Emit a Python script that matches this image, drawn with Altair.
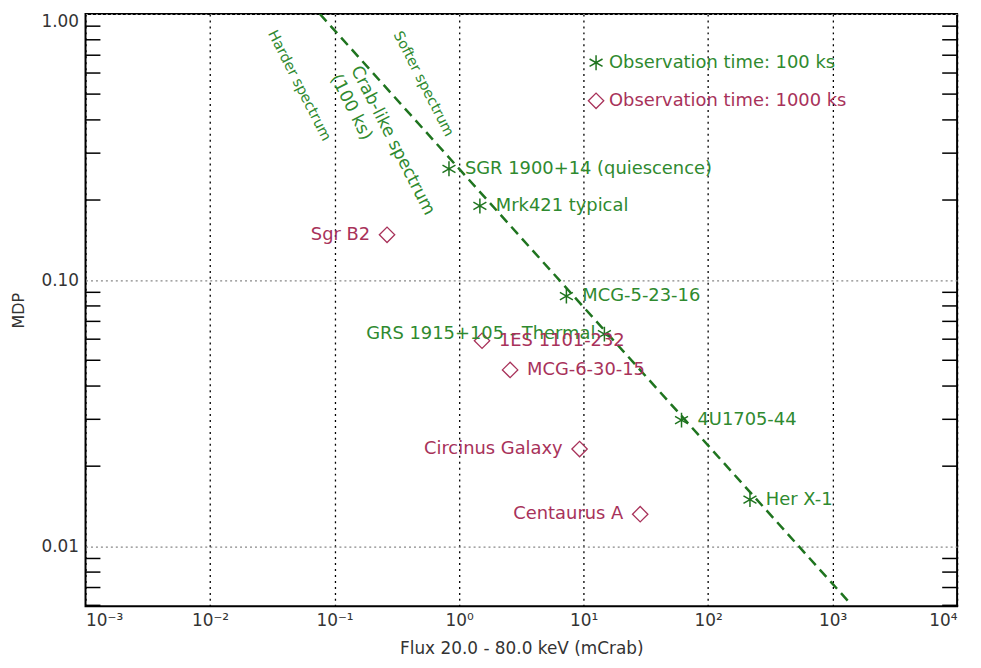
import altair as alt
import pandas as pd

# ---------------- data ----------------
x_ticks = [1e-3, 1e-2, 1e-1, 1.0, 1e1, 1e2, 1e3, 1e4]
x_tick_labels = ["10⁻³", "10⁻²", "10⁻¹", "10⁰", "10¹", "10²", "10³", "10⁴"]
y_ticks = [0.01, 0.1, 1.0]
y_minor = [0.006, 0.007, 0.008, 0.009,
           0.02, 0.03, 0.04, 0.05, 0.06, 0.07, 0.08, 0.09,
           0.2, 0.3, 0.4, 0.5, 0.6, 0.7, 0.8, 0.9]

# Observation time 100 ks (asterisks)
star_names = ["SGR 1900+14 (quiescence)", "Mrk421 typical", "MCG-5-23-16",
              "GRS 1915+105 - Thermal", "4U1705-44", "Her X-1"]
star_flux = [0.83, 1.47, 7.28, 14.7, 61.2, 217.0]
star_mdp = [0.262, 0.19, 0.0871, 0.0627, 0.0298, 0.01497]
star_side = ["right", "right", "right", "left", "right", "right"]

# Observation time 1000 ks (diamonds)
dia_names = ["Sgr B2", "1ES 1101-232", "MCG-6-30-15", "Circinus Galaxy", "Centaurus A"]
dia_flux = [0.264, 1.53, 2.57, 9.29, 28.5]
dia_mdp = [0.148, 0.0592, 0.046, 0.0232, 0.0132]
dia_side = ["left", "right", "right", "left", "left"]

# Crab-like spectrum (100 ks) line
crab_flux = [0.0762, 1322.0]
crab_mdp = [1.0, 0.00625]

# legend entries
legend_text = ["Observation time: 100 ks", "Observation time: 1000 ks"]
legend_flux = [12.6, 12.6]
legend_mdp = [0.656, 0.472]

# rotated annotations
ann_text = ["Harder spectrum", "Softer spectrum", "Crab-like spectrum", "(100 ks)"]
ann_flux = [0.0519, 0.515, 0.2927, 0.1354]
ann_mdp = [0.537, 0.545, 0.334, 0.446]
ann_size = [14.5, 14.5, 17.5, 17.5]

# ---------------- styling ----------------
W, H = 877, 596
GREEN = "#2f8a2f"
DKGREEN = "#1f741f"
RED = "#a8325a"
FONT = "DejaVu Sans"
LFS = 18
ASTERISK = "M0,-1L0,1M-0.87,-0.5L0.87,0.5M-0.87,0.5L0.87,-0.5"

xs = alt.Scale(type="log", domain=[1e-3, 1e4], nice=False)
ys = alt.Scale(type="log", domain=[0.00595, 1.0], nice=False)

label_expr = "[" + ",".join(f"'{t}'" for t in x_tick_labels) + "][round(log(datum.value)/LN10)+3]"

x_axis = alt.Axis(values=x_ticks, labelExpr=label_expr, grid=True, gridDash=[2, 4],
                  gridColor="black", gridWidth=1.3, gridOpacity=1, ticks=False, domain=False,
                  labelPadding=6, labelFontSize=17, labelColor="#333", labelFont=FONT,
                  title="Flux 20.0 - 80.0 keV (mCrab)", titleFontSize=17, titleColor="#333",
                  titleFont=FONT, titleFontWeight="normal", titleX=W / 2, titleY=42,
                  titleBaseline="middle", titleAlign="center")
y_axis = alt.Axis(values=y_ticks, format=".2f", grid=True, gridDash=[2, 3],
                  gridColor="#888", gridWidth=1.2, gridOpacity=1, ticks=False, domain=False,
                  labelPadding=7, labelFontSize=17, labelColor="#333", labelFont=FONT,
                  labelFlush=True,
                  title="MDP", titleFontSize=16, titleColor="#333", titleFont=FONT,
                  titleFontWeight="normal", titleX=-67, titleY=H / 2, titleAngle=270,
                  titleAlign="center", titleBaseline="middle")

star_df = pd.DataFrame({"name": star_names, "x": star_flux, "y": star_mdp, "side": star_side})
dia_df = pd.DataFrame({"name": dia_names, "x": dia_flux, "y": dia_mdp, "side": dia_side})
crab_df = pd.DataFrame({"x": crab_flux, "y": crab_mdp})
leg_df = pd.DataFrame({"t": legend_text, "x": legend_flux, "y": legend_mdp})
ann_df = pd.DataFrame({"t": ann_text, "x": ann_flux, "y": ann_mdp, "s": ann_size})
minor_df = pd.DataFrame({"x": [1.0] * len(y_minor), "y": y_minor})

X = alt.X("x:Q", scale=xs, axis=x_axis)
Y = alt.Y("y:Q", scale=ys, axis=y_axis)

line = alt.Chart(crab_df).mark_line(
    color=DKGREEN, strokeDash=[10, 6], strokeWidth=2.5, clip=True
).encode(x=X, y=Y)

tick_l = alt.Chart(minor_df).mark_rule(color="black", strokeWidth=1.5).encode(
    y=Y, x=alt.value(0), x2=alt.value(15))
tick_r = alt.Chart(minor_df).mark_rule(color="black", strokeWidth=1.5).encode(
    y=Y, x=alt.value(W - 15), x2=alt.value(W))

stars = alt.Chart(star_df).mark_point(
    shape=ASTERISK, filled=False, size=225, strokeWidth=1.5, color=DKGREEN, opacity=1
).encode(x=X, y=Y)

dias = alt.Chart(dia_df).mark_point(
    shape="diamond", filled=False, size=240, strokeWidth=1.3, color=RED, opacity=1
).encode(x=X, y=Y)

txt = dict(font=FONT, fontSize=LFS, baseline="middle")
star_r = alt.Chart(star_df).transform_filter("datum.side == 'right'").mark_text(
    align="left", dx=16, color=GREEN, **txt).encode(x=X, y=Y, text="name:N")
star_l = alt.Chart(star_df).transform_filter("datum.side == 'left'").mark_text(
    align="right", dx=-9, color=GREEN, **txt).encode(x=X, y=Y, text="name:N")
dia_r = alt.Chart(dia_df).transform_filter("datum.side == 'right'").mark_text(
    align="left", dx=17, color=RED, **txt).encode(x=X, y=Y, text="name:N")
dia_l = alt.Chart(dia_df).transform_filter("datum.side == 'left'").mark_text(
    align="right", dx=-17, color=RED, **txt).encode(x=X, y=Y, text="name:N")

leg_star = alt.Chart(leg_df.iloc[[0]]).mark_point(
    shape=ASTERISK, filled=False, size=225, strokeWidth=1.5, color=DKGREEN, opacity=1
).encode(x=X, y=Y)
leg_dia = alt.Chart(leg_df.iloc[[1]]).mark_point(
    shape="diamond", filled=False, size=240, strokeWidth=1.3, color=RED, opacity=1
).encode(x=X, y=Y)
leg_t1 = alt.Chart(leg_df.iloc[[0]]).mark_text(align="left", dx=13, color=GREEN, **txt).encode(
    x=X, y=Y, text="t:N")
leg_t2 = alt.Chart(leg_df.iloc[[1]]).mark_text(align="left", dx=13, color=RED, **txt).encode(
    x=X, y=Y, text="t:N")

ann = alt.Chart(ann_df).mark_text(
    font=FONT, angle=63, align="center", baseline="middle", color=GREEN
).encode(x=X, y=Y, text="t:N", size=alt.Size("s:Q", scale=None, legend=None))

chart = alt.layer(
    line, tick_l, tick_r, stars, dias, star_r, star_l, dia_r, dia_l,
    leg_star, leg_dia, leg_t1, leg_t2, ann
).properties(
    width=W, height=H,
    background="white",
    autosize=alt.AutoSizeParams(type="none"),
    padding={"left": 78, "top": 4, "right": 16, "bottom": 52},
).configure_view(
    stroke="black", strokeWidth=2
)

chart.save("out.html", embed_options={"renderer": "svg", "actions": False})
